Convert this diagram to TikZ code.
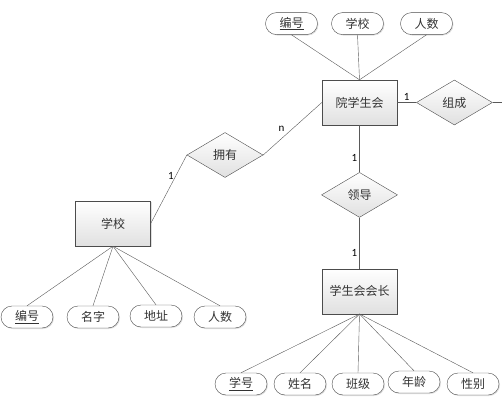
\documentclass[tikz,border=0pt]{standalone}
\usepackage{fontspec}
\setmainfont{Noto Sans CJK SC}
\newfontfamily\labfont{Carlito}
\usetikzlibrary{positioning,shapes.geometric,shadows}

\begin{document}
\begin{tikzpicture}[x=1pt, y=1pt,
  font=\fontsize{12}{14}\selectfont, text=black!80,
  entity/.style={draw=black!70, top color=white, bottom color=black!12,
                 minimum width=75pt, minimum height=45pt, inner sep=2pt,
                 drop shadow={opacity=0.25, shadow xshift=1.2pt, shadow yshift=-1.2pt}},
  relation/.style={draw=black!70, diamond, aspect=1.7, inner sep=0pt,
                   top color=white, bottom color=black!12,
                   minimum width=76pt, minimum height=45pt},
  attr/.style={draw=black!70, rounded corners=11pt, fill=white,
               minimum width=52pt, minimum height=22pt, inner sep=1pt,
               drop shadow={opacity=0.25, shadow xshift=1pt, shadow yshift=-1pt}},
  card/.style={font=\labfont\fontsize{11}{13}\selectfont, text=black, inner sep=2pt}]
\useasboundingbox (0,0) rectangle (502,402);

% entities and relations
\node[entity] (yxsh) at (359.5,299.5) {院学生会};
\node[relation, right=19pt of yxsh] (zucheng) {组成};
\node[relation, below=47pt of yxsh] (lingdao) {领导};
\node[entity, below=51pt of lingdao] (huizhang) {学生会会长};
\node[relation] (yongyou) at (225,247) {拥有};
\node[entity] (xuexiao) at (113,178.5) {学校};
\coordinate (zc-out) at (502,299.5);

% attributes of 院学生会
\node[attr, above=45pt of yxsh, xshift=-68pt] (yx-bh) {\underline{编号}};
\node[attr, above=45pt of yxsh, xshift=-2pt] (yx-xx) {学校};
\node[attr, above=45pt of yxsh, xshift=67pt] (yx-rs) {人数};

% attributes of 学校
\node[attr] (xx-bh) at (27,85) {\underline{编号}};
\node[attr] (xx-mz) at (93,85) {名字};
\node[attr] (xx-dz) at (156,86) {地址};
\node[attr] (xx-rs) at (220,85) {人数};

% attributes of 学生会会长
\node[attr] (hz-xh) at (241,18) {\underline{学号}};
\node[attr] (hz-xm) at (300,18) {姓名};
\node[attr] (hz-bj) at (358,18) {班级};
\node[attr] (hz-nl) at (414,20) {年龄};
\node[attr] (hz-xb) at (473,18) {性别};

% connectors
\draw[black!65] (yx-bh.south) -- (yxsh.north);
\draw[black!65] (yx-xx.south) -- (yxsh.north);
\draw[black!65] (yx-rs.south) -- (yxsh.north);
\draw[black!65] (yxsh) -- (zucheng) node[card, midway, above] {1};
\draw[black!65] (zucheng) -- (zc-out);
\draw[black!65] (yxsh) -- (lingdao) node[card, pos=0.7, left] {1};
\draw[black!65] (lingdao) -- (huizhang) node[card, pos=0.7, left] {1};
\draw[black!65] (yongyou.east) -- (yxsh.west) node[card, pos=0.4, above left] {n};
\draw[black!65] (yongyou.west) -- (xuexiao.east) node[card, pos=0.3, left] {1};
\draw[black!65] (xuexiao.south) -- (xx-bh.north);
\draw[black!65] (xuexiao.south) -- (xx-mz.north);
\draw[black!65] (xuexiao.south) -- (xx-dz.north);
\draw[black!65] (xuexiao.south) -- (xx-rs.north);
\draw[black!65] (huizhang.south) -- (hz-xh.north);
\draw[black!65] (huizhang.south) -- (hz-xm.north);
\draw[black!65] (huizhang.south) -- (hz-bj.north);
\draw[black!65] (huizhang.south) -- (hz-nl.north);
\draw[black!65] (huizhang.south) -- (hz-xb.north);
\end{tikzpicture}
\end{document}
